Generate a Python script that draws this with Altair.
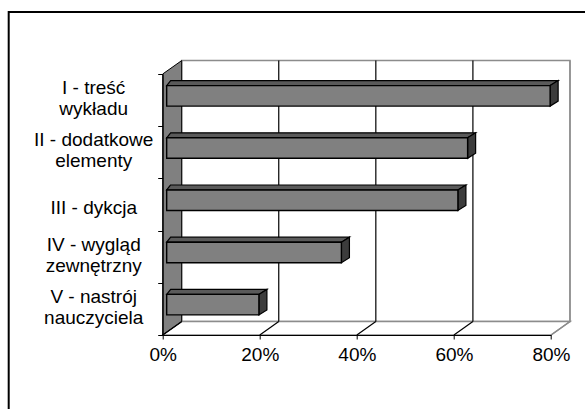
import altair as alt
import pandas as pd

# ---- data -------------------------------------------------------------
categories = [
    "I - treść wykładu",
    "II - dodatkowe elementy",
    "III - dykcja",
    "IV - wygląd zewnętrzny",
    "V - nastrój nauczyciela",
]
category_lines = [
    ["I - treść", "wykładu"],
    ["II - dodatkowe", "elementy"],
    ["III - dykcja"],
    ["IV - wygląd", "zewnętrzny"],
    ["V - nastrój", "nauczyciela"],
]
shares = [79, 62, 60, 36, 19]          # percent of answers
x_ticks = [0, 20, 40, 60, 80]

# ---- 3-D box geometry (in data units of the two scales) ----------------
X_MAX = 80
N = len(categories)
DEPTH_X = 3.91      # floor depth along x (percent units)
DEPTH_Y = 0.257     # floor depth along y (row units)
BAR_X0 = 0.82       # bars sit a little behind the front plane
BAR_TOP = 0.222     # front face top inside each row
BAR_H = 0.393       # front face height
BAR_DY = 0.096      # bar depth (vertical part)
BAR_DX_L = 0.82     # bar depth at the left end
BAR_DX_R = 1.65     # bar depth at the right end

FONT = "Liberation Sans"
LABEL_SIZE = 19
LINE_HEIGHT = 21

# ---- derived tables ----------------------------------------------------
bars = pd.DataFrame({
    "category": categories,
    "share": shares,
    "row": list(range(N)),
})
bars["x0"] = BAR_X0
bars["x1"] = BAR_X0 + bars["share"]
bars["y0"] = bars["row"] + BAR_TOP
bars["y1"] = bars["y0"] + BAR_H

top_faces = pd.concat([
    pd.DataFrame({"bar": bars["row"], "y": bars["y0"],
                  "xa": bars["x0"], "xb": bars["x1"]}),
    pd.DataFrame({"bar": bars["row"], "y": bars["y0"] - BAR_DY,
                  "xa": bars["x0"] + BAR_DX_L, "xb": bars["x1"] + BAR_DX_R}),
])
side_faces = pd.concat([
    pd.DataFrame({"bar": bars["row"], "x": bars["x1"],
                  "ya": bars["y0"], "yb": bars["y1"]}),
    pd.DataFrame({"bar": bars["row"], "x": bars["x1"] + BAR_DX_R,
                  "ya": bars["y0"] - BAR_DY, "yb": bars["y1"] - BAR_DY}),
])

side_wall = pd.DataFrame({"x": [0, DEPTH_X], "ya": [0, -DEPTH_Y],
                          "yb": [N, N - DEPTH_Y]})
floor = pd.DataFrame({"y": [N, N - DEPTH_Y], "xa": [0, DEPTH_X],
                      "xb": [X_MAX, X_MAX + DEPTH_X]})
back_wall = pd.DataFrame({"xa": [DEPTH_X], "xb": [X_MAX + DEPTH_X],
                          "ya": [-DEPTH_Y], "yb": [N - DEPTH_Y]})
grid = pd.DataFrame({"v": x_ticks})
grid["xb"] = grid["v"] + DEPTH_X
grid["ya"] = -DEPTH_Y
grid["yb"] = N - DEPTH_Y
grid["yf"] = N

# ---- scales & axes -----------------------------------------------------
x_scale = alt.Scale(domain=[0, X_MAX], nice=False, zero=False)
y_scale = alt.Scale(domain=[0, N], reverse=True, nice=False, zero=False)

# ticks on the row borders; each name anchored so its block is centred
# in its row (first line sits at the anchor)
label_pos = []
for i, lines in enumerate(category_lines):
    shift = -0.24 if len(lines) > 1 else 0.06
    label_pos.append(round(i + 0.5 + shift, 4))
y_values = sorted(list(range(N + 1)) + label_pos)
label_expr = ""
for pos, lines in zip(label_pos, category_lines):
    label_expr += "datum.value == %r ? '%s' : " % (pos, "|".join(lines))
label_expr = "split(" + label_expr + "'', '|')"

x_axis = alt.Axis(values=x_ticks, labelExpr="datum.value + '%'", grid=False,
                  domainColor="black", tickColor="black", tickSize=4,
                  labelPadding=6, labelFont=FONT, labelFontSize=LABEL_SIZE,
                  labelColor="black", labelFlush=False, title=None, zindex=1)
y_axis = alt.Axis(values=y_values, labelExpr=label_expr, grid=False,
                  domainColor="black", tickColor="black", tickSize=5,
                  tickOpacity={"condition": {"test": "datum.value % 1 != 0",
                                             "value": 0}, "value": 1},
                  labelAlign="center", labelBaseline="middle",
                  labelPadding=64.5, labelLineHeight=LINE_HEIGHT,
                  labelFont=FONT, labelFontSize=LABEL_SIZE,
                  labelColor="black", labelOverlap=False, labelFlush=False,
                  title=None, zindex=1)


def X(field):
    return alt.X(field, scale=x_scale, axis=x_axis)


def Y(field):
    return alt.Y(field, scale=y_scale, axis=y_axis)


# ---- layers ------------------------------------------------------------
frame = alt.Chart(back_wall).mark_rect(
    filled=False, stroke="black", strokeWidth=2
).encode(x=alt.value(-154), x2=alt.value(520),
         y=alt.value(-62), y2=alt.value(420))

wall = alt.Chart(back_wall).mark_rect(
    fill="white", stroke="#8c8c8c", strokeWidth=1.5
).encode(x=X("xa:Q"), x2="xb", y=Y("ya:Q"), y2="yb")

floor_layer = alt.Chart(floor).mark_area(
    orient="horizontal", fill="white", stroke="#8c8c8c", strokeWidth=1.5
).encode(x=X("xa:Q"), x2="xb", y=Y("y:Q"))

side_layer = alt.Chart(side_wall).mark_area(
    orient="vertical", fill="#808080", stroke="black", strokeWidth=1
).encode(x=X("x:Q"), y=Y("ya:Q"), y2="yb")

back_grid = alt.Chart(grid).mark_rule(strokeWidth=1.2).encode(
    x=X("xb:Q"), y=Y("ya:Q"), y2="yb",
    color=alt.condition((alt.datum.v > 0) & (alt.datum.v < X_MAX),
                        alt.value("black"), alt.value("#8c8c8c")),
    opacity=alt.condition(alt.datum.v > 0, alt.value(1), alt.value(0)),
)

floor_grid = alt.Chart(grid).mark_rule(strokeWidth=1.2).encode(
    x=X("v:Q"), x2="xb", y=Y("yf:Q"), y2="yb",
    color=alt.condition(alt.datum.v < X_MAX,
                        alt.value("black"), alt.value("#8c8c8c")),
)

bar_top = alt.Chart(top_faces).mark_area(
    orient="horizontal", fill="#5a5a5a", stroke="black", strokeWidth=1.2
).encode(x=X("xa:Q"), x2="xb", y=Y("y:Q"), detail="bar:N")

bar_side = alt.Chart(side_faces).mark_area(
    orient="vertical", fill="#3c3c3c", stroke="black", strokeWidth=1.2
).encode(x=X("x:Q"), y=Y("ya:Q"), y2="yb", detail="bar:N")

bar_front = alt.Chart(bars).mark_rect(
    fill="#808080", stroke="black", strokeWidth=1.4
).encode(x=X("x0:Q"), x2="x1", y=Y("y0:Q"), y2="y1",
         tooltip=["category:N", "share:Q"])

chart = alt.layer(
    frame, wall, floor_layer, side_layer, back_grid, floor_grid,
    bar_top, bar_side, bar_front,
).properties(
    width=388.3, height=261, autosize="none",
    padding={"left": 162.7, "top": 74, "right": 34, "bottom": 74},
).configure_view(stroke=None).configure(background="white")

chart.save("out.html", embed_options={"renderer": "svg", "actions": False})
